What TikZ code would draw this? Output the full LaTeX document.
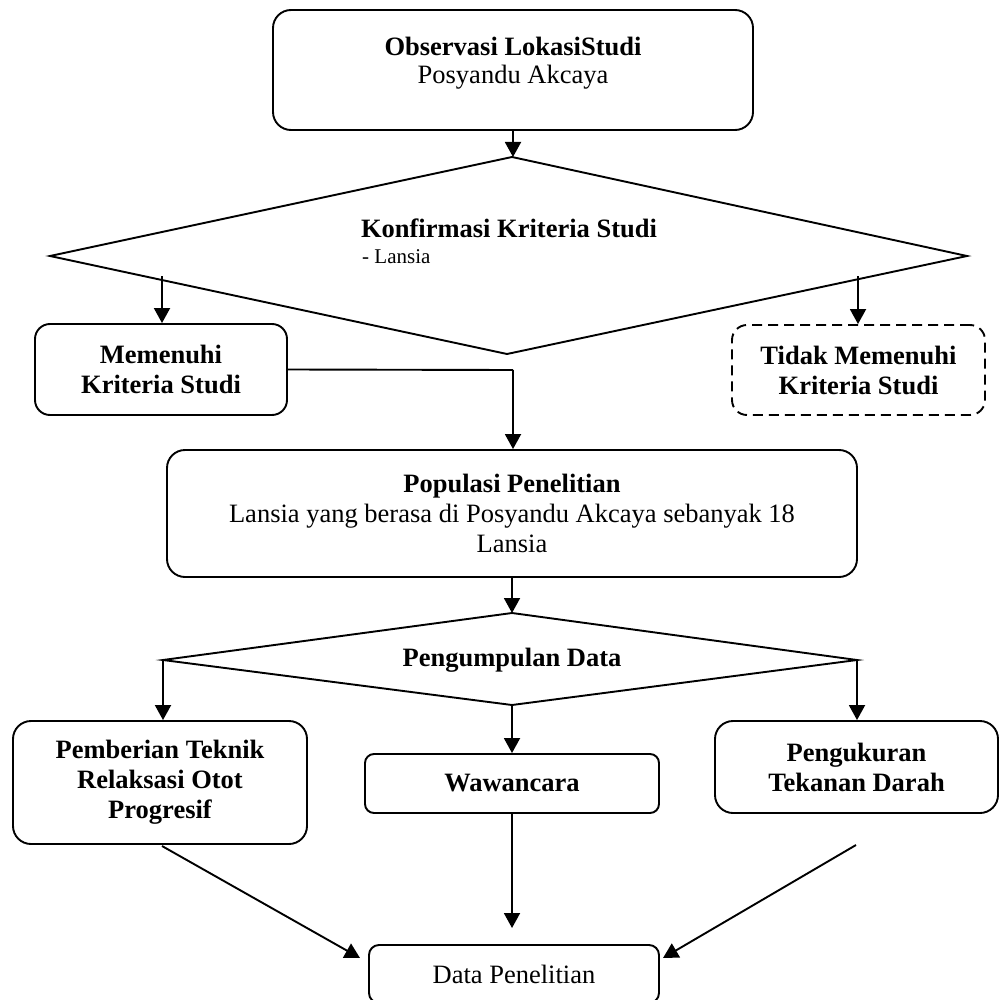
\documentclass[tikz,border=0pt]{standalone}
\usepackage{fontspec}
\setmainfont{Liberation Serif}
\usetikzlibrary{arrows.meta}
\begin{document}
\begin{tikzpicture}[x=1pt,y=-1pt,
  ln/.style={line width=1.9pt},
  rbox/.style={draw, line width=1.9pt, rounded corners=#1, inner sep=0pt,
     align=center, font=\fontsize{26.5}{30}\selectfont\bfseries},
  rbox/.default=16pt,
  txt/.style={inner sep=0pt, align=center, font=\fontsize{26.5}{30}\selectfont},
  arr/.style={line width=1.9pt, -{Triangle[length=15pt,width=16pt]}}]
\useasboundingbox (0,0) rectangle (998,1000);

% top box
\node[rbox=18pt, minimum width=480pt, minimum height=120pt] (obs) at (513,70) {};
\node[txt, font=\fontsize{26.5}{28}\selectfont] (obst) at (513,63.5) {\textbf{Observasi LokasiStudi}\\Posyandu Akcaya};

% diamond 1
\coordinate (d1t) at (512,157);
\coordinate (d1r) at (967,256);
\coordinate (d1b) at (507,354);
\coordinate (d1l) at (50,256);
\draw[ln, line join=miter] (d1t) -- (d1r) -- (d1b) -- (d1l) -- cycle;
\node[txt, font=\fontsize{26.5}{30}\selectfont\bfseries] (konf) at (509,228) {Konfirmasi Kriteria Studi};
\node[inner sep=0pt, anchor=west, font=\fontsize{21}{24}\selectfont] (lans) at (362,257) {- Lansia};

\draw[arr] (obs.south) -- (obs.south |- d1t);

% branches
\node[rbox=15pt, minimum width=252pt, minimum height=91pt] (mem) at (161,369.5) {Memenuhi\\Kriteria Studi};
\node[rbox=15pt, dash pattern=on 10pt off 6pt, minimum width=253pt, minimum height=90pt] (tid) at (858.5,370) {Tidak Memenuhi\\Kriteria Studi};
\coordinate (a1) at (162,276);
\coordinate (a2) at (858,276);
\draw[arr] (a1) -- (a1 |- mem.north);
\draw[arr] (a2) -- (a2 |- tid.north);

% populasi
\node[rbox=18pt, minimum width=690pt, minimum height=127pt] (pop) at (512,513.5) {Populasi Penelitian\\\mdseries Lansia yang berasa di Posyandu Akcaya sebanyak 18\\\mdseries Lansia};
\coordinate (m1) at (513,370);
\draw[ln] (mem.east) -- (m1);
\draw[arr] (m1) -- (m1 |- pop.north);

% diamond 2
\coordinate (d2t) at (512,613);
\coordinate (d2r) at (857,660);
\coordinate (d2b) at (512,705);
\coordinate (d2l) at (163,660);
\draw[arr] (pop.south) -- (d2t);
\draw[ln, line join=miter] (d2t) -- (d2r) -- (d2b) -- (d2l) -- cycle;
\node[txt, font=\fontsize{26.5}{30}\selectfont\bfseries] (pengd) at (512,660) {Pengumpulan Data};

% three boxes
\node[rbox=18pt, minimum width=294pt, minimum height=123pt] (pem) at (160,782.5) {Pemberian Teknik\\Relaksasi Otot\\Progresif};
\node[rbox=9pt, minimum width=294pt, minimum height=59pt] (waw) at (512,783.5) {Wawancara};
\node[rbox=18pt, minimum width=283pt, minimum height=92pt] (ukur) at (856.5,767) {Pengukuran\\Tekanan Darah};
\draw[arr] (d2l) -- (d2l |- pem.north);
\draw[arr] (d2b) -- (waw.north);
\draw[arr] (d2r) -- (d2r |- ukur.north);

% data
\node[rbox=10pt, font=\fontsize{26.5}{30}\selectfont, minimum width=290pt, minimum height=58pt] (data) at (514,974) {Data Penelitian};
\coordinate (b1) at (162,846);
\coordinate (t1) at (360,958);
\coordinate (t2) at (512,928);
\coordinate (b3) at (856,845);
\coordinate (t3) at (663,958);
\draw[arr] (b1) -- (t1);
\draw[arr] (waw.south) -- (t2);
\draw[arr] (b3) -- (t3);
\end{tikzpicture}
\end{document}
